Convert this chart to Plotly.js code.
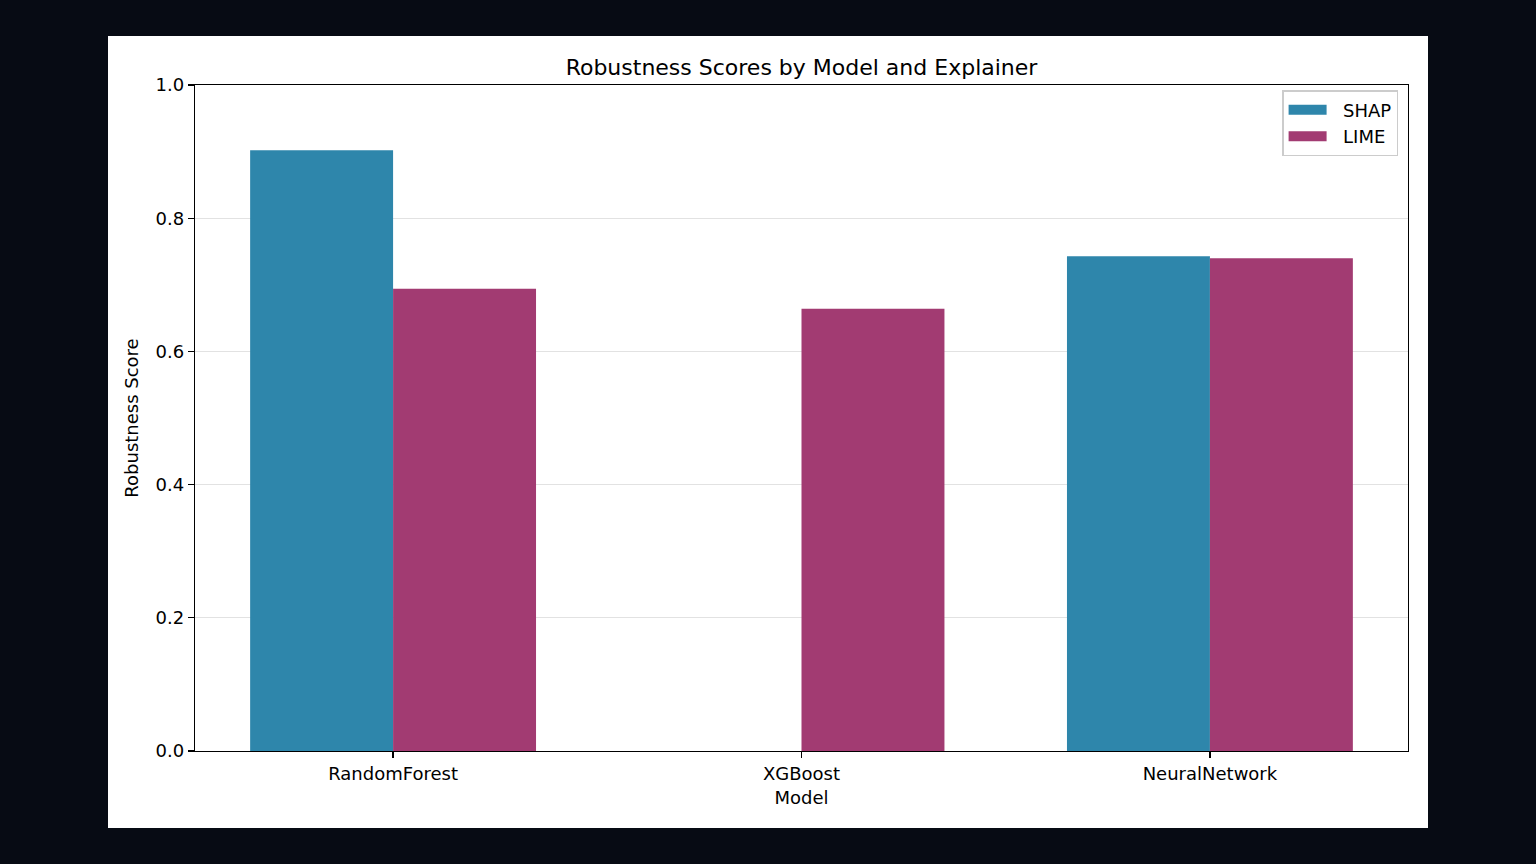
<!DOCTYPE html>
<html>
<head>
<meta charset="utf-8">
<script src="https://cdn.plot.ly/plotly-3.0.1.min.js"></script>
<style>
  html, body { margin: 0; padding: 0; background: #070b14; width: 1536px; height: 864px; overflow: hidden; }
  #chart { position: absolute; left: 108px; top: 36px; width: 1320px; height: 792px; background: #fff; }
</style>
</head>
<body>
<div id="chart"></div>
<script>
// values
const models = ['RandomForest', 'XGBoost', 'NeuralNetwork'];
const shapScores = [0.902, 0, 0.743];
const limeScores = [0.694, 0.664, 0.740];
const explainers = ['SHAP', 'LIME'];
const colors = ['#2E86AB', '#A23B72'];
const yTicks = [0, 0.2, 0.4, 0.6, 0.8, 1.0];

const font = 'DejaVu Sans, sans-serif';

const traces = [shapScores, limeScores].map((vals, i) => ({
  type: 'bar',
  name: explainers[i],
  x: models,
  y: vals,
  marker: { color: colors[i], line: { width: 0 } },
  showlegend: false,
  hoverinfo: 'x+y'
}));

// wide legend swatches like matplotlib's patches
explainers.forEach((name, i) => {
  traces.push({
    type: 'scatter',
    mode: 'lines',
    name: '\u00a0\u00a0' + name,
    x: [null],
    y: [null],
    line: { color: colors[i], width: 13 },
    hoverinfo: 'skip'
  });
});

const layout = {
  width: 1320,
  height: 792,
  paper_bgcolor: '#ffffff',
  plot_bgcolor: '#ffffff',
  margin: { l: 87, r: 20, t: 49, b: 77 },
  font: { family: font, size: 18, color: '#000' },
  title: {
    text: 'Robustness Scores by Model and Explainer',
    font: { family: font, size: 22, color: '#000' },
    x: 0.5, xref: 'paper', xanchor: 'center',
    y: 1, yref: 'paper', yanchor: 'bottom',
    pad: { b: 10 }
  },
  barmode: 'group',
  bargap: 0.3,
  bargroupgap: 0,
  xaxis: {
    type: 'category',
    range: [-0.485, 2.485],
    showgrid: false,
    zeroline: false,
    showline: true, linecolor: '#000', linewidth: 1.3, mirror: true,
    ticks: 'outside', ticklen: 6, tickwidth: 1.3, tickcolor: '#000',
    tickfont: { family: font, size: 18, color: '#000' },
    title: { text: 'Model', font: { family: font, size: 18, color: '#000' }, standoff: 8 }
  },
  yaxis: {
    range: [0, 1],
    tickvals: yTicks,
    ticktext: yTicks.map(v => v.toFixed(1)),
    showgrid: true, gridcolor: '#e2e2e2', gridwidth: 1.2,
    zeroline: false,
    showline: true, linecolor: '#000', linewidth: 1.3, mirror: true,
    ticks: 'outside', ticklen: 6, tickwidth: 1.3, tickcolor: '#000',
    tickfont: { family: font, size: 18, color: '#000' },
    title: { text: 'Robustness Score', font: { family: font, size: 18, color: '#000' }, standoff: 12 }
  },
  legend: {
    x: 0.992, xanchor: 'right', xref: 'paper',
    y: 0.992, yanchor: 'top', yref: 'paper',
    bgcolor: 'rgba(255,255,255,0.8)',
    bordercolor: '#cccccc', borderwidth: 1.3,
    font: { family: font, size: 18, color: '#000' },
    itemwidth: 38,
    tracegroupgap: 0
  },
  showlegend: true
};

Plotly.newPlot('chart', traces, layout, { displayModeBar: false, staticPlot: true });
</script>
</body>
</html>
